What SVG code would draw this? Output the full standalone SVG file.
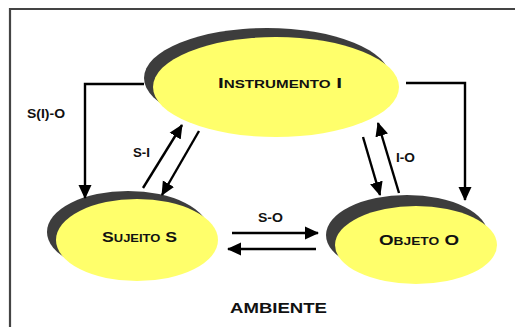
<svg xmlns="http://www.w3.org/2000/svg" width="515" height="327" viewBox="0 0 515 327">
<style>
.bg{fill:#ffffff}
.frame{fill:none;stroke:#444;stroke-width:2.2}
.shadow{fill:#3d3d3d}
.fill{fill:#ffff6b}
.node{font-family:"Liberation Sans",Arial,sans-serif;font-weight:bold;font-variant:small-caps;fill:#111;text-anchor:middle}
.lbl{font-family:"Liberation Sans",Arial,sans-serif;font-weight:bold;font-variant:small-caps;fill:#111;font-size:13px;text-anchor:middle}
.con{fill:none;stroke:#000;stroke-width:2.4}
</style>
<defs>
<marker id="ah" markerUnits="userSpaceOnUse" markerWidth="14" markerHeight="14" viewBox="0 0 14 14" refX="13" refY="7" orient="auto">
<path d="M0,0.5 L14,7 L0,13.5 Z" fill="#000"/>
</marker>
</defs>
<rect class="bg" x="0" y="0" width="515" height="327"/>
<path class="frame" d="M10,327 L10,9 L515,9"/>
<g id="instrumento">
<ellipse class="shadow" cx="267" cy="78" rx="123" ry="50"/>
<ellipse class="fill" cx="276" cy="87" rx="123" ry="50"/>
<text class="node" x="280" y="88" font-size="15" textLength="124" lengthAdjust="spacingAndGlyphs">Instrumento I</text>
</g>
<g id="sujeito">
<ellipse class="shadow" cx="128" cy="232" rx="81" ry="41"/>
<ellipse class="fill" cx="137" cy="240" rx="81" ry="41"/>
<text class="node" x="139.5" y="242" font-size="15" textLength="75" lengthAdjust="spacingAndGlyphs">Sujeito S</text>
</g>
<g id="objeto">
<ellipse class="shadow" cx="407" cy="235" rx="81" ry="40"/>
<ellipse class="fill" cx="416" cy="245" rx="81" ry="39"/>
<text class="node" x="419" y="245" font-size="15" textLength="80" lengthAdjust="spacingAndGlyphs">Objeto O</text>
</g>
<g id="connectors">
<path class="con" d="M144,84 L85,84 L85,198" marker-end="url(#ah)"/>
<path class="con" d="M406,83 L465,83 L465,200" marker-end="url(#ah)"/>
<line class="con" x1="143" y1="188" x2="182" y2="125" marker-end="url(#ah)"/>
<line class="con" x1="199" y1="131" x2="162" y2="195" marker-end="url(#ah)"/>
<line class="con" x1="399" y1="193" x2="378" y2="123" marker-end="url(#ah)"/>
<line class="con" x1="363" y1="137" x2="380" y2="195" marker-end="url(#ah)"/>
<line class="con" x1="232" y1="233" x2="318" y2="233" marker-end="url(#ah)"/>
<line class="con" x1="316" y1="249" x2="228" y2="249" marker-end="url(#ah)"/>
<text class="lbl" x="46" y="118" textLength="38" lengthAdjust="spacingAndGlyphs">S(I)-O</text>
<text class="lbl" x="141.5" y="157" textLength="17" lengthAdjust="spacingAndGlyphs">S-I</text>
<text class="lbl" x="405.5" y="162" textLength="19" lengthAdjust="spacingAndGlyphs">I-O</text>
<text class="lbl" x="270.5" y="222" textLength="25" lengthAdjust="spacingAndGlyphs">S-O</text>
</g>
<text class="node" x="278.5" y="313" font-size="14" textLength="97" lengthAdjust="spacingAndGlyphs" font-variant="normal">AMBIENTE</text>
</svg>
